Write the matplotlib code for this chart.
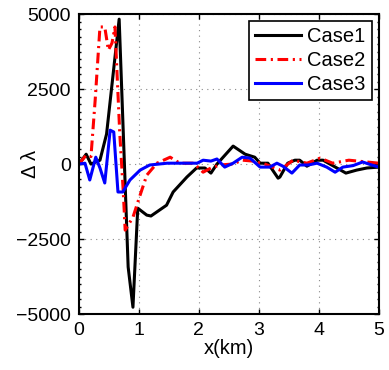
import numpy as np
import matplotlib
matplotlib.use('Agg')
import matplotlib.pyplot as plt
from matplotlib import ticker

plt.rcParams['font.family'] = ['Liberation Sans', 'DejaVu Sans']

# Case1 (black solid)
case1_x = [0.0, 0.12, 0.2, 0.35, 0.46, 0.67, 0.82, 0.9, 0.98, 1.13, 1.2, 1.46, 1.57, 1.8, 1.96,
           2.1, 2.2, 2.3, 2.57, 2.77, 2.93, 3.02, 3.15, 3.32, 3.35, 3.48, 3.6, 3.68, 3.8, 3.97,
           4.07, 4.3, 4.45, 4.63, 4.8, 5.0]
case1_y = [0, 330, 0, 130, 1000, 4830, -3430, -4770, -1470, -1700, -1730, -1370, -930, -430, -130,
           -130, -300, 0, 600, 330, 230, 30, 30, -470, -430, 30, 130, 130, -70, 130,
           130, -130, -300, -200, -130, -100]

# Case2 (red dash-dot)
case2_x = [0.0, 0.12, 0.2, 0.27, 0.35, 0.43, 0.49, 0.55, 0.6, 0.63, 0.68, 0.74, 0.77, 0.9, 1.02,
           1.13, 1.3, 1.52, 1.68, 1.9, 2.0, 2.07, 2.2, 2.35, 2.55, 2.73, 2.9, 3.1, 3.35, 3.57,
           3.8, 4.02, 4.23, 4.5, 4.8, 5.0]
case2_y = [0, 300, 250, 2130, 4570, 4570, 3800, 4030, 4570, 3230, 1030, -970, -2200, -1770, -1030,
           -370, 30, 230, 30, 30, -130, -270, -130, -30, 0, 130, 100, 0, -200, 130,
           30, 200, 30, 130, 70, 30]

# Case3 (blue solid)
case3_x = [0.0, 0.1, 0.18, 0.28, 0.35, 0.43, 0.52, 0.58, 0.65, 0.73, 0.85, 1.02, 1.18, 1.47, 1.97,
           2.07, 2.2, 2.3, 2.43, 2.57, 2.72, 2.85, 3.02, 3.18, 3.3, 3.4, 3.55, 3.68, 3.82, 3.97,
           4.13, 4.27, 4.4, 4.57, 4.73, 4.88, 5.0]
case3_y = [0, 30, -530, 230, -130, -630, 1130, 1070, -930, -930, -530, -200, -30, 30, 30,
           130, 100, 170, -100, 30, 230, 200, -100, -100, 30, -70, -300, -30, -30, 30,
           -100, -270, -100, -50, 70, -30, -100]

labels = ['Case1', 'Case2', 'Case3']

fig = plt.figure(figsize=(3.89, 3.70), dpi=100)
ax = fig.add_axes([0.203, 0.151, 0.771, 0.811])

ax.plot(case1_x, case1_y, color='black', linewidth=2.2, label=labels[0])
ax.plot(case2_x, case2_y, color='red', linewidth=2.2, linestyle=(0, (3.5, 1.5, 0.7, 1.5)), label=labels[1])
ax.plot(case3_x, case3_y, color='blue', linewidth=2.2, label=labels[2])

ax.set_xlim(0, 5)
ax.set_ylim(-5000, 5000)
ax.xaxis.set_major_locator(ticker.MultipleLocator(1))
ax.yaxis.set_major_locator(ticker.MultipleLocator(2500))
ax.yaxis.set_minor_locator(ticker.MultipleLocator(250))
ax.tick_params(which='both', direction='in', top=True, right=True, labelsize=14, width=1, pad=6)
ax.tick_params(which='major', length=3.5)
ax.tick_params(which='minor', length=1.5)
ax.grid(True, which='major', linestyle=(0, (1, 4)), color='#888888', linewidth=0.8)
for s in ax.spines.values():
    s.set_linewidth(1.5)

ax.set_xlabel('x(km)', fontsize=14.5, labelpad=0)
ax.set_ylabel('Δ λ', fontsize=14.5)
ax.yaxis.set_label_coords(-0.13, 0.5)

leg = ax.legend(loc='upper right', fontsize=14.5, fancybox=False, framealpha=1,
                edgecolor='black', handlelength=2.3, borderaxespad=0.35,
                handletextpad=0.3, labelspacing=0.25, borderpad=0.3)
leg.get_frame().set_linewidth(1.2)

plt.savefig('out.png', dpi=100)
